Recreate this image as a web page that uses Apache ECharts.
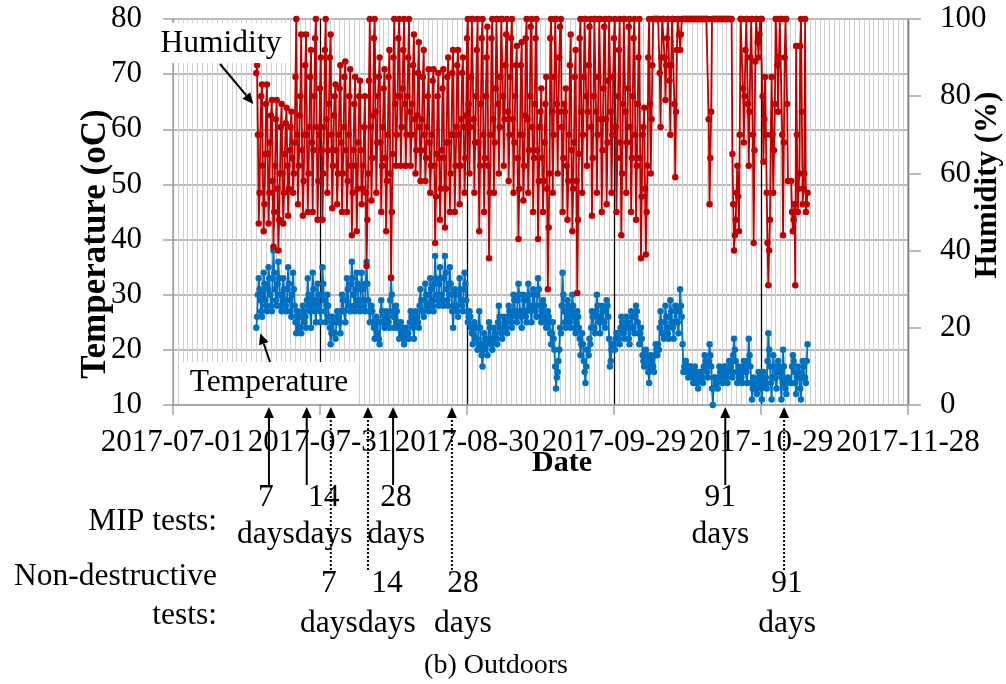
<!DOCTYPE html>
<html>
<head>
<meta charset="utf-8">
<script src="https://cdn.jsdelivr.net/npm/echarts@6/dist/echarts.min.js"></script>
<style>
  html, body { margin: 0; padding: 0; background: #ffffff; }
  #chart { width: 1006px; height: 684px; }
</style>
</head>
<body>
<div id="chart"></div>
<script>
// Time axis: values are days counted from AXIS_START
const AXIS_START = '2017-07-01';
const DATE_TICKS = ['2017-07-01', '2017-07-31', '2017-08-30', '2017-09-29', '2017-10-29', '2017-11-28'];

// Logger readings, one every SAMPLE_HOURS from SERIES_START (00, 04, 08, 12, 16, 20 h each day)
const SERIES_START = '2017-07-18T00:00';
const SAMPLE_HOURS = 4;

// Temperature (oC), one row per day
const temperature = [
  24, 26, 30, 33, 31, 29,   // Jul 18
  27, 26, 30, 34, 32, 29,
  28, 27, 31, 35, 33, 30,
  28, 27, 33, 38, 34, 31,
  29, 28, 32, 36, 33, 30,
  28, 27, 30, 33, 31, 29,
  28, 27, 31, 35, 32, 29,
  27, 26, 30, 34, 31, 28,
  25, 23, 25, 27, 26, 24,
  24, 23, 26, 28, 27, 25,
  26, 24, 29, 33, 30, 28,
  27, 24, 29, 34, 31, 28,
  27, 25, 29, 32, 30, 28,
  27, 25, 30, 35, 32, 29,   // Jul 31
  27, 25, 28, 30, 28, 26,
  24, 21, 23, 26, 25, 23,
  23, 22, 25, 27, 26, 25,
  25, 23, 27, 30, 29, 27,
  27, 25, 29, 33, 31, 28,
  28, 27, 32, 36, 33, 30,
  28, 27, 31, 34, 32, 29,
  28, 27, 31, 34, 31, 29,
  28, 27, 32, 36, 32, 29,
  27, 25, 27, 28, 27, 25,
  24, 22, 24, 26, 25, 23,
  22, 21, 25, 29, 27, 25,
  25, 24, 26, 27, 26, 25,
  25, 24, 29, 33, 30, 27,
  26, 24, 26, 28, 27, 25,
  24, 22, 24, 25, 24, 23,
  22, 21, 23, 24, 23, 22,
  23, 22, 25, 27, 26, 25,
  24, 22, 25, 27, 26, 25,
  25, 24, 28, 31, 29, 27,
  27, 26, 29, 32, 30, 28,
  28, 27, 30, 33, 31, 29,
  28, 27, 32, 37, 33, 30,
  29, 28, 32, 35, 33, 30,
  29, 28, 33, 37, 34, 31,
  29, 28, 32, 35, 32, 30,
  27, 24, 28, 31, 30, 28,
  27, 26, 30, 33, 31, 29,
  28, 27, 31, 34, 32, 29,
  27, 25, 26, 27, 26, 24,   // Aug 30
  23, 21, 23, 25, 24, 22,
  22, 20, 24, 27, 24, 21,
  19, 17, 20, 23, 22, 21,
  21, 19, 22, 25, 24, 22,
  21, 20, 22, 24, 23, 22,
  22, 21, 25, 28, 26, 24,
  23, 22, 24, 26, 25, 24,
  24, 23, 26, 28, 27, 26,
  25, 24, 27, 30, 29, 27,
  26, 25, 29, 32, 30, 27,
  26, 24, 27, 30, 29, 27,
  26, 25, 29, 32, 30, 28,
  27, 25, 28, 31, 30, 28,
  27, 26, 30, 33, 31, 28,
  26, 25, 27, 29, 28, 26,
  25, 24, 26, 27, 26, 25,
  23, 21, 23, 25, 22, 20,
  17, 13, 15, 16, 18, 20,
  24, 23, 28, 34, 30, 27,
  25, 24, 27, 29, 28, 26,
  25, 24, 27, 30, 28, 26,
  24, 23, 25, 27, 26, 24,
  22, 19, 21, 23, 21, 18,
  16, 14, 17, 20, 20, 19,
  22, 21, 24, 27, 26, 24,
  24, 23, 27, 30, 28, 26,
  25, 23, 26, 28, 27, 25,
  25, 24, 27, 29, 28, 26,
  22, 17, 18, 20, 21, 21,   // Sep 28
  21, 20, 22, 23, 23, 22,
  22, 21, 24, 26, 25, 23,
  23, 22, 24, 26, 25, 24,
  22, 21, 24, 27, 26, 24,
  24, 23, 26, 28, 27, 25,
  23, 21, 23, 24, 22, 19,
  18, 17, 19, 20, 19, 18,
  16, 14, 17, 19, 18, 17,
  17, 16, 19, 21, 20, 19,
  21, 20, 24, 27, 25, 23,
  23, 22, 25, 28, 26, 24,
  23, 22, 26, 29, 27, 25,
  24, 22, 25, 28, 27, 25,
  25, 23, 27, 31, 28, 26,
  21, 16, 17, 18, 18, 17,
  16, 15, 16, 17, 17, 16,
  15, 14, 16, 17, 16, 15,
  14, 13, 15, 16, 16, 15,
  15, 14, 17, 19, 18, 17,
  16, 15, 18, 21, 19, 17,
  13, 10, 13, 15, 15, 14,
  14, 13, 15, 17, 16, 15,
  15, 14, 16, 17, 17, 16,
  15, 14, 16, 18, 18, 17,
  16, 15, 19, 22, 20, 18,
  16, 14, 16, 17, 16, 15,
  15, 14, 16, 18, 17, 16,
  16, 14, 18, 22, 19, 17,
  14, 11, 13, 15, 14, 13,
  13, 12, 14, 16, 15, 14,
  13, 11, 14, 16, 15, 14,   // Oct 29
  15, 13, 18, 23, 20, 17,
  14, 11, 15, 19, 17, 15,
  15, 13, 16, 18, 17, 16,
  16, 11, 15, 20, 17, 14,
  13, 12, 14, 15, null, null,
  null, 14, 17, 19, 18, 16,
  14, 12, 15, 17, 16, 15,
  13, 11, 15, 18, 17, 15,
  15, 14, 18, 21             // Nov 7
];

// Relative humidity (%), one row per day
const humidity = [
  86, 88, 70, 47, 55, 70,   // Jul 18
  80, 83, 62, 45, 52, 65,
  78, 83, 65, 47, 55, 68,
  75, 79, 58, 41, 50, 62,
  74, 79, 56, 40, 48, 60,
  72, 78, 60, 47, 55, 65,
  73, 77, 62, 49, 56, 66,
  72, 76, 64, 55, 60, 68,
  85, 100, 70, 52, 62, 75,
  80, 96, 66, 49, 58, 70,
  88, 96, 70, 50, 60, 72,
  85, 92, 68, 50, 66, 80,
  95, 100, 72, 48, 58, 70,
  82, 90, 66, 48, 60, 72,   // Jul 31
  92, 100, 74, 55, 66, 78,
  90, 96, 70, 51, 62, 75,
  80, 83, 66, 52, 60, 70,
  82, 88, 68, 50, 60, 72,
  85, 89, 66, 50, 58, 70,
  80, 87, 62, 44, 55, 66,
  78, 85, 62, 45, 56, 68,
  80, 84, 66, 52, 56, 62,
  72, 80, 55, 36, 48, 60,
  84, 100, 72, 53, 64, 75,
  95, 100, 76, 55, 68, 80,
  85, 90, 68, 50, 62, 72,
  82, 87, 64, 45, 58, 70,
  85, 92, 60, 33, 50, 65,
  90, 100, 78, 62, 70, 80,
  95, 100, 80, 62, 72, 82,
  92, 100, 78, 62, 70, 80,
  90, 100, 76, 62, 70, 78,
  88, 96, 74, 60, 66, 75,
  86, 94, 72, 58, 66, 74,
  85, 92, 70, 58, 64, 72,
  80, 87, 68, 55, 62, 70,
  84, 87, 62, 42, 54, 65,
  80, 86, 64, 48, 56, 66,
  82, 87, 64, 46, 56, 68,
  85, 90, 68, 50, 60, 70,
  86, 92, 70, 50, 62, 72,
  88, 92, 70, 52, 62, 74,
  86, 90, 72, 55, 64, 75,
  95, 100, 78, 60, 72, 85,  // Aug 30
  100, 100, 74, 55, 68, 80,
  92, 100, 68, 45, 62, 78,
  95, 100, 70, 50, 64, 80,
  90, 98, 62, 38, 55, 70,
  95, 100, 74, 55, 68, 82,
  100, 100, 78, 60, 72, 85,
  100, 100, 80, 62, 74, 88,
  96, 100, 76, 58, 70, 85,
  95, 100, 74, 55, 68, 80,
  88, 93, 64, 43, 56, 70,
  88, 94, 70, 53, 62, 75,
  95, 100, 74, 55, 66, 80,
  98, 100, 72, 50, 64, 78,
  95, 100, 66, 43, 58, 72,
  76, 82, 64, 50, 58, 68,
  78, 85, 56, 30, 46, 60,
  95, 100, 76, 55, 70, 85,
  100, 100, 78, 60, 76, 90,
  98, 100, 72, 50, 64, 78,
  76, 82, 62, 48, 58, 70,
  88, 96, 66, 45, 56, 68,
  85, 92, 58, 29, 48, 65,
  95, 100, 76, 55, 70, 85,
  100, 100, 80, 62, 76, 88,
  98, 100, 72, 49, 64, 80,
  100, 100, 76, 55, 70, 85,
  100, 100, 74, 50, 66, 82,
  98, 100, 74, 52, 68, 84,
  100, 100, 76, 55, 70, 85,  // Sep 28
  95, 100, 72, 50, 64, 80,
  92, 100, 68, 44, 60, 78,
  100, 100, 76, 55, 68, 82,
  98, 100, 72, 50, 64, 80,
  95, 100, 70, 48, 62, 78,
  90, 100, 64, 38, 54, 70,
  72, 77, 56, 39, 50, 62,
  90, 100, 78, 60, 74, 88,
  100, 100, 100, 100, 100, 100,
  100, 100, 86, 72, 90, 100,
  100, 100, 90, 79, 88, 95,
  100, 100, 84, 70, 88, 100,
  100, 100, 78, 59, 76, 92,
  100, 100, 96, 92, 96, 100,
  100, 100, 100, 100, 100, 100,
  100, 100, 100, 100, 100, 100,
  100, 100, 100, 100, 100, 100,
  100, 100, 100, 100, 100, 100,
  100, 100, 100, 100, 100, 100,
  100, 100, 74, 52, 64, 76,
  100, 100, 100, 100, 100, 100,
  100, 100, 100, 100, 100, 100,
  100, 100, 100, 100, 100, 100,
  100, 100, 100, 100, 100, 100,
  100, 65, 52, 40, 44, 48,
  55, 62, 54, 45, 70, 100,
  100, 100, 82, 68, 80, 92,
  100, 100, 78, 62, 76, 90,
  100, 100, 70, 42, 66, 89,
  100, 100, 94, 90, 96, 100,
  100, 100, 80, 63, 74, 85,  // Oct 29
  70, 55, 42, 31, 40, 48,
  70, 85, 70, 55, 66, 78,
  100, 100, 88, 76, 90, 100,
  100, 100, 70, 44, 68, 90,
  100, 100, 78, 58, null, null,
  null, 58, 50, 45, 48, 52,
  31, 93, 70, 50, 56, 60,
  93, 100, 76, 52, 56, 60,
  100, 50, 52, 55            // Nov 7
];

// Test dates marked under the time axis
const MIP_TESTS = [
  { date: '2017-07-20T14:00', age: '7' },
  { date: '2017-07-28T07:00', age: '14' },
  { date: '2017-08-14T22:00', age: '28' },
  { date: '2017-10-21T17:00', age: '91' }
];
const NDT_TESTS = [
  { date: '2017-08-02T05:00', age: '7' },
  { date: '2017-08-09T19:00', age: '14' },
  { date: '2017-08-26T22:00', age: '28' },
  { date: '2017-11-02T17:00', age: '91' }
];

// ---- helpers ----
const DAY_MS = 86400000;
const axisStartMs = Date.parse(AXIS_START + 'T00:00:00Z');
function toDay(str) {
  return (Date.parse(str + ':00Z') - axisStartMs) / DAY_MS;
}
const firstDay = toDay(SERIES_START);
const stepDay = SAMPLE_HOURS / 24;
function pairs(values) {
  return values.map((v, i) => [firstDay + i * stepDay, v]);
}

const SERIF = '"Liberation Serif", "Times New Roman", serif';
const GRID_GRAY = '#a3a3a3';

const option = {
  animation: false,
  backgroundColor: '#ffffff',
  grid: { left: 173, right: 98, top: 19, bottom: 279, containLabel: false },
  xAxis: {
    type: 'value',
    min: 0,
    max: 150,
    interval: 30,
    axisLine: { show: true, lineStyle: { color: GRID_GRAY, width: 1.5 } },
    axisTick: { show: true, inside: false, length: 10, lineStyle: { color: GRID_GRAY, width: 1.5 } },
    axisLabel: {
      margin: 22,
      color: '#000',
      fontFamily: SERIF,
      fontSize: 31,
      hideOverlap: false,
      formatter: (v) => DATE_TICKS[Math.round(v / 30)] || ''
    },
    splitLine: {
      show: true,
      lineStyle: { color: [GRID_GRAY, '#000', '#000', '#000', '#000', '#000'], width: 1.3 }
    },
    minorTick: { show: false, splitNumber: 30 },
    minorSplitLine: { show: true, lineStyle: { color: '#cfcfcf', width: 1 } }
  },
  yAxis: [
    {
      type: 'value',
      min: 10,
      max: 80,
      interval: 10,
      axisLine: { show: true, lineStyle: { color: GRID_GRAY, width: 1.5 } },
      axisTick: { show: true, inside: false, length: 10, lineStyle: { color: GRID_GRAY, width: 1.5 } },
      axisLabel: { margin: 31, color: '#000', fontFamily: SERIF, fontSize: 31 },
      splitLine: { show: true, lineStyle: { color: GRID_GRAY, width: 1.6 } }
    },
    {
      type: 'value',
      position: 'right',
      min: 0,
      max: 100,
      interval: 20,
      axisLine: { show: true, lineStyle: { color: GRID_GRAY, width: 1.5 } },
      axisTick: { show: true, inside: false, length: 13, lineStyle: { color: GRID_GRAY, width: 1.5 } },
      axisLabel: { margin: 32, color: '#000', fontFamily: SERIF, fontSize: 31 },
      splitLine: { show: false }
    }
  ],
  series: [
    {
      name: 'Temperature',
      type: 'line',
      xAxisIndex: 0,
      yAxisIndex: 0,
      data: pairs(temperature),
      symbol: 'circle',
      symbolSize: 6.5,
      showSymbol: true,
      connectNulls: false,
      z: 2,
      lineStyle: { color: '#0070c0', width: 1.8 },
      itemStyle: { color: '#0070c0' }
    },
    {
      name: 'Humidity',
      type: 'line',
      xAxisIndex: 0,
      yAxisIndex: 1,
      data: pairs(humidity),
      symbol: 'circle',
      symbolSize: 6.5,
      showSymbol: true,
      connectNulls: false,
      z: 3,
      lineStyle: { color: '#c00000', width: 1.8 },
      itemStyle: { color: '#c00000' }
    }
  ]
};

const chart = echarts.init(document.getElementById('chart'), null, { renderer: 'canvas' });
chart.setOption(option);

// ---- annotations ----
function px(day, value, yAxisIndex) {
  return chart.convertToPixel({ xAxisIndex: 0, yAxisIndex: yAxisIndex }, [day, value]);
}
function text(str, x, y, size, opts) {
  opts = opts || {};
  return {
    type: 'text',
    z: 110,
    x: x,
    y: y,
    rotation: opts.rotation || 0,
    style: {
      text: str,
      x: 0,
      y: 0,
      fill: '#000',
      font: (opts.bold ? 'bold ' : '') + size + 'px ' + SERIF,
      align: opts.align || 'center',
      verticalAlign: 'middle'
    }
  };
}
function arrow(x1, y1, x2, y2, dashed) {
  const dx = x2 - x1, dy = y2 - y1;
  const len = Math.hypot(dx, dy);
  const ux = dx / len, uy = dy / len;
  const head = 11, half = 5;
  const bx = x2 - ux * head, by = y2 - uy * head;
  return [
    {
      type: 'line', z: 110,
      shape: { x1: x1, y1: y1, x2: bx, y2: by },
      style: { stroke: '#000', lineWidth: 2, lineDash: dashed ? [2, 2] : null }
    },
    {
      type: 'polygon', z: 110,
      shape: { points: [[x2, y2], [bx - uy * half, by + ux * half], [bx + uy * half, by - ux * half]] },
      style: { fill: '#000' }
    }
  ];
}

const baseY = px(0, 10, 0)[1];
const g = [];

// Series captions with white boxes
g.push({ type: 'rect', z: 105, shape: { x: 155, y: 23, width: 135, height: 40 }, style: { fill: '#fff' } });
g.push(text('Humidity', 221, 44, 31.5));
const hTip = px(16.4, 78, 1);
g.push(...arrow(220, 64, hTip[0], hTip[1], false));

g.push({ type: 'rect', z: 105, shape: { x: 180, y: 362, width: 178, height: baseY - 363 }, style: { fill: '#fff' } });
g.push(text('Temperature', 269, 383, 31.5));
const tTip = px(17.8, 23, 0);
g.push(...arrow(270, 362, tTip[0], tTip[1], false));

// Axis titles
g.push(text('Temperature (oC)', 96, 244, 35, { bold: true, rotation: Math.PI / 2 }));
g.push(text('Humidity (%)', 988, 185, 31, { bold: true, rotation: Math.PI / 2 }));
g.push(text('Date', 562, 463, 30, { bold: true }));

// Test markers
const MIP_LABEL_DX = [-3, 17, 3, -5];
const NDT_LABEL_DX = [-2, 19, 11, 3];
g.push(text('MIP tests:', 217, 522, 31.5, { align: 'right' }));
g.push(text('Non-destructive', 217, 577, 31.5, { align: 'right' }));
g.push(text('tests:', 217, 616, 31.5, { align: 'right' }));

MIP_TESTS.forEach((t, i) => {
  const x = px(toDay(t.date), 10, 0)[0];
  g.push(...arrow(x, 485, x, baseY + 2, false));
  g.push(text(t.age, x + MIP_LABEL_DX[i], 498, 31.5));
  g.push(text('days', x + MIP_LABEL_DX[i], 535, 31.5));
});
NDT_TESTS.forEach((t, i) => {
  const x = px(toDay(t.date), 10, 0)[0];
  g.push(...arrow(x, 570, x, baseY + 2, true));
  g.push(text(t.age, x + NDT_LABEL_DX[i], 584, 31.5));
  g.push(text('days', x + NDT_LABEL_DX[i], 624, 31.5));
});

g.push(text('(b) Outdoors', 496, 666, 28));

chart.setOption({ graphic: g });
</script>
</body>
</html>
